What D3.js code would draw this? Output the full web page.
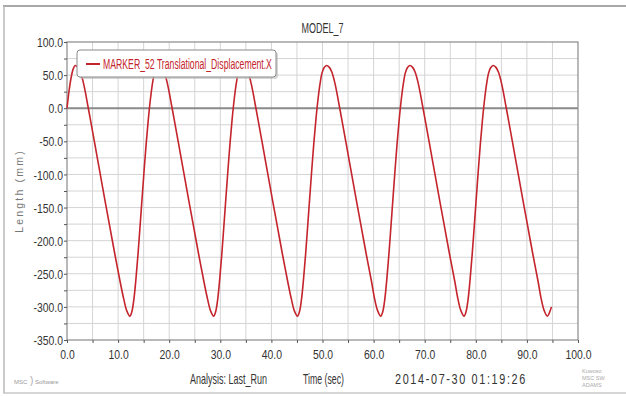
<!DOCTYPE html>
<html>
<head>
<meta charset="utf-8">
<script src="https://cdn.jsdelivr.net/npm/d3@7"></script>
<style>
  body { margin: 0; background: #fff; }
  svg { display: block; font-family: "Liberation Sans", Arial, sans-serif; }
</style>
</head>
<body>
<svg id="chart" width="626" height="396"></svg>
<script>
const chartTitle = 'MODEL_7';
const seriesName = 'MARKER_52 Translational_Displacement.X';
const xTicks = [0, 10, 20, 30, 40, 50, 60, 70, 80, 90, 100];
const yTicks = [100, 50, 0, -50, -100, -150, -200, -250, -300, -350];

// [time (sec), length (mm)]
const displacement = [
    [0, 0], [0.4, 26], [0.8, 46], [1.2, 59], [1.6, 64.5],
    [2.1, 62], [2.6, 55], [3.1, 42], [3.6, 24], [4.1, 3], [4.6, -18], [5.4, -52], [6.4, -95], [7.4, -138],
    [8.4, -180], [9.4, -222], [10.4, -262], [11.1, -288], [11.7, -306], [12.3, -314],
    [12.7, -307], [13.1, -288], [13.5, -257], [13.9, -220], [14.3, -178], [14.7, -135], [15.1, -93],
    [15.5, -53], [15.9, -18], [16.3, 12], [16.7, 36], [17.1, 53], [17.5, 61], [18.0, 64.5],
    [18.5, 62], [19.0, 55], [19.5, 42], [20.0, 24], [20.5, 3], [21.0, -18], [21.8, -52], [22.8, -95],
    [23.8, -138], [24.8, -180], [25.8, -222], [26.8, -262], [27.5, -288], [28.1, -306], [28.7, -314],
    [29.1, -307], [29.5, -288], [29.9, -257], [30.3, -220], [30.7, -178], [31.1, -135], [31.5, -93],
    [31.9, -53], [32.3, -18], [32.7, 12], [33.1, 36], [33.5, 53], [33.9, 61], [34.4, 64.5],
    [34.9, 62], [35.4, 55], [35.9, 42], [36.4, 24], [36.9, 3], [37.4, -18], [38.2, -52], [39.2, -95],
    [40.2, -138], [41.2, -180], [42.2, -222], [43.2, -262], [43.9, -288], [44.5, -306], [45.1, -314],
    [45.5, -307], [45.9, -288], [46.3, -257], [46.7, -220], [47.1, -178], [47.5, -135], [47.9, -93],
    [48.3, -53], [48.7, -18], [49.1, 12], [49.5, 36], [49.9, 53], [50.3, 61], [50.8, 64.5],
    [51.3, 62], [51.8, 55], [52.3, 42], [52.8, 24], [53.3, 3], [53.8, -18], [54.6, -52], [55.6, -95],
    [56.6, -138], [57.6, -180], [58.6, -222], [59.6, -262], [60.2, -288], [60.8, -306], [61.4, -314],
    [61.8, -307], [62.2, -288], [62.6, -257], [63.0, -220], [63.4, -178], [63.8, -135], [64.2, -93],
    [64.6, -53], [65.0, -18], [65.4, 12], [65.8, 36], [66.2, 53], [66.6, 61], [67.1, 64.5],
    [67.6, 62], [68.1, 55], [68.6, 42], [69.1, 24], [69.6, 3], [70.1, -18], [70.9, -52], [71.9, -95],
    [72.9, -138], [73.9, -180], [74.9, -222], [75.9, -262], [76.5, -288], [77.1, -306], [77.7, -314],
    [78.1, -307], [78.5, -288], [78.9, -257], [79.3, -220], [79.7, -178], [80.1, -135], [80.5, -93],
    [80.9, -53], [81.3, -18], [81.7, 12], [82.1, 36], [82.5, 53], [82.9, 61], [83.4, 64.5],
    [83.9, 62], [84.4, 55], [84.9, 42], [85.4, 24], [85.9, 3], [86.4, -18], [87.2, -52], [88.2, -95],
    [89.2, -138], [90.2, -180], [91.2, -222], [92.2, -262], [92.8, -288], [93.4, -306], [94.0, -314],
    [94.4, -309], [94.8, -300]
];

const svg = d3.select('#chart');
const margin = { left: 67, right: 48, top: 42, bottom: 56 };
const W = 626, H = 396;
const x = d3.scaleLinear().domain([0, 100]).range([margin.left, W - margin.right]);
const y = d3.scaleLinear().domain([-350, 100]).range([H - margin.bottom, margin.top]);

// the original screenshot is squeezed sideways, so squeeze the glyphs too
function squeeze(sel, k) {
    sel.each(function () {
        const len = this.getComputedTextLength();
        d3.select(this).attr('textLength', len * k).attr('lengthAdjust', 'spacingAndGlyphs');
    });
}
// left-anchored text squeezed into a given width with a transform
function placeNarrow(parent, tx, ty, str, w, size, spacing = 0) {
    const g = parent.append('g').attr('transform', `translate(${tx},${ty})`);
    const t = g.append('text').attr('font-size', size).attr('letter-spacing', spacing).text(str);
    const k = w / t.node().getComputedTextLength();
    g.attr('transform', `translate(${tx},${ty}) scale(${k},1)`);
    return t;
}

// outer frame
svg.append('line').attr('x1', 3).attr('x2', W).attr('y1', 6).attr('y2', 6)
    .attr('stroke', '#a8a8a8').attr('stroke-width', 2);
svg.append('line').attr('x1', 4).attr('x2', 4).attr('y1', 6).attr('y2', 393)
    .attr('stroke', '#b8b8b8').attr('stroke-width', 1.5);
svg.append('line').attr('x1', 3).attr('x2', W).attr('y1', 393).attr('y2', 393)
    .attr('stroke', '#c8c8c8').attr('stroke-width', 1.5);

placeNarrow(svg, (x(0) + x(100)) / 2 - 21, 33, chartTitle, 42, 14).attr('fill', '#333');

// grid
const grid = svg.append('g');
grid.selectAll('.vg').data(d3.range(5, 100, 5)).enter().append('line')
    .attr('x1', d => x(d)).attr('x2', d => x(d))
    .attr('y1', y(100)).attr('y2', y(-350))
    .attr('stroke', '#d4d4d4').attr('stroke-width', 1);
grid.selectAll('.hg').data(d3.range(-325, 100, 25).filter(d => d !== 0)).enter().append('line')
    .attr('x1', x(0)).attr('x2', x(100))
    .attr('y1', d => y(d)).attr('y2', d => y(d))
    .attr('stroke', '#d4d4d4').attr('stroke-width', 1);
grid.append('line').attr('x1', x(0)).attr('x2', x(100)).attr('y1', y(0)).attr('y2', y(0))
    .attr('stroke', '#8a8a8a').attr('stroke-width', 2);

svg.append('rect').attr('x', x(0)).attr('y', y(100))
    .attr('width', x(100) - x(0)).attr('height', y(-350) - y(100))
    .attr('fill', 'none').attr('stroke', '#8a8a8a').attr('stroke-width', 1.2);

// axes
const xAxis = d3.axisBottom(x).tickValues(d3.range(0, 101, 5)).tickSize(3)
    .tickFormat(d => xTicks.includes(d) ? d.toFixed(1) : '');
const gx = svg.append('g').attr('transform', `translate(0,${y(-350)})`).call(xAxis);
const yAxis = d3.axisLeft(y).tickValues(d3.range(-350, 101, 25)).tickSize(3)
    .tickFormat(d => yTicks.includes(d) ? d.toFixed(1) : '');
const gy = svg.append('g').attr('transform', `translate(${x(0)},0)`).call(yAxis);
[gx, gy].forEach(g => {
    g.select('.domain').remove();
    g.selectAll('line').attr('stroke', '#555');
    g.selectAll('text').attr('font-size', 13).attr('fill', '#333')
        .attr('font-family', '"Liberation Sans", Arial, sans-serif');
});
gx.selectAll('text').attr('dy', '1.0em');
gy.selectAll('text').attr('x', -4).attr('dy', '0.35em');
gx.selectAll('text').filter(function () { return this.textContent; }).call(squeeze, 0.8);
gy.selectAll('text').filter(function () { return this.textContent; }).call(squeeze, 0.8);

svg.append('text').attr('transform', `translate(23,${(y(100) + y(-350)) / 2}) rotate(-90)`)
    .attr('text-anchor', 'middle').attr('font-size', 10.5).attr('letter-spacing', 2.2)
    .attr('fill', '#777')
    .text('Length (mm)');

// curve
const line = d3.line().x(d => x(d[0])).y(d => y(d[1])).curve(d3.curveCatmullRom.alpha(0.5));
svg.append('path').datum(displacement).attr('d', line)
    .attr('fill', 'none').attr('stroke', '#c4242c').attr('stroke-width', 1.6);

// legend
const lg = svg.append('g');
lg.append('rect').attr('x', 79).attr('y', 52).attr('width', 199).attr('height', 27).attr('rx', 3)
    .attr('fill', '#bbb').attr('opacity', 0.6);
lg.append('rect').attr('x', 77).attr('y', 50).attr('width', 199).attr('height', 27).attr('rx', 3)
    .attr('fill', '#fff').attr('stroke', '#8a8a8a').attr('stroke-width', 1);
lg.append('line').attr('x1', 86).attr('x2', 100).attr('y1', 64).attr('y2', 64)
    .attr('stroke', '#c4242c').attr('stroke-width', 2);
placeNarrow(lg, 103, 69, seriesName, 169, 15).attr('fill', '#c4242c');

// footer
const foot = svg.append('g').attr('fill', '#333');
placeNarrow(foot, 190, 384, 'Analysis:  Last_Run', 77, 14);
placeNarrow(foot, 303, 384, 'Time (sec)', 41, 14);
placeNarrow(foot, 395, 384, '2014-07-30 01:19:26', 132, 14.5, 2.2);

// little vendor marks
svg.append('text').attr('x', 14).attr('y', 384).attr('font-size', 6).attr('fill', '#999').text('MSC');
svg.append('text').attr('x', 30).attr('y', 384).attr('font-size', 10).attr('fill', '#aaa').text(')');
svg.append('text').attr('x', 35).attr('y', 384).attr('font-size', 6).attr('fill', '#999').text('Software');
const rl = svg.append('g').attr('font-size', 5.5).attr('fill', '#aaa');
['Kuwoso', 'MSC SW', 'ADAMS'].forEach((t, i) => {
    rl.append('text').attr('x', 582).attr('y', 373 + i * 7).text(t);
});
</script>
</body>
</html>
